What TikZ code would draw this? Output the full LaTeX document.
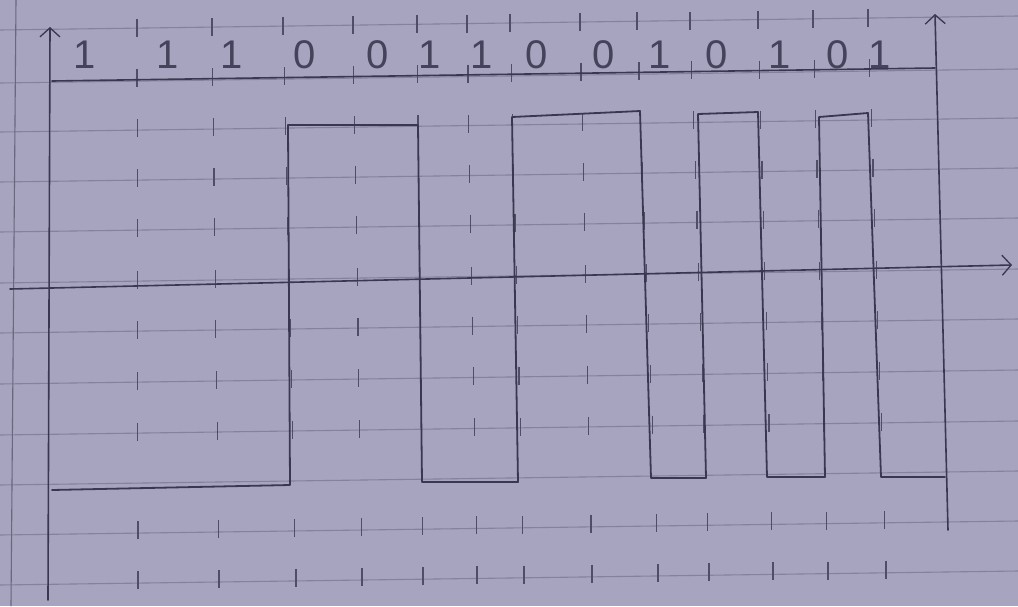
\documentclass[tikz,border=0pt]{standalone}
\usepackage{fontspec}
\setmainfont{Liberation Sans}
\usetikzlibrary{arrows.meta}
\definecolor{paper}{RGB}{166,164,190}
\definecolor{ruling}{RGB}{132,130,158}
\definecolor{pencil}{RGB}{58,56,80}
\tikzset{
  ruleline/.style={draw=ruling, line width=1.1pt},
  tickmark/.style={draw=pencil!80!paper, line width=1.2pt},
  pencilline/.style={draw=pencil, line width=1.6pt, line cap=round, line join=round},
  arrowtip/.style={-{Straight Barb[length=9pt,width=20pt,line width=1.3pt]}},
  bitlabel/.style={text=pencil!90!paper, font=\fontsize{40}{40}\selectfont, inner sep=0pt}
}
\begin{document}
\begin{tikzpicture}[x=1pt,y=-1pt]
\fill[paper] (0,0) rectangle (1018,606);
\useasboundingbox (0,0) rectangle (1018,606);
% paper ruling
\foreach \y in {30,83,132,182,232,283,333,384,435,485,535,585}
  \draw[ruleline] (0,\y) -- (1018,\y-14);
\draw[ruleline, draw=ruling!80!black] (16,0) -- (11,606);
% guide ticks
\foreach \xt/\xb in {137/138,212/219,283/296,353/362,417/423,467/477,510/524,580/592,637/658,690/709,758/773,813/828,868/886}{
  \foreach \y in {30,80,130,180,230,282,332,383,434,532,582}{
    \pgfmathsetmacro\xx{\xt+(\xb-\xt)*(\y-30)/550}
    \pgfmathsetmacro\yy{\y-14*\xx/1018}
    \draw[tickmark] (\xx,\yy-9) -- (\xx,\yy+9);
  }
}
% axes
\coordinate (lbot) at (48,600);
\coordinate (ltop) at (50,27);
\coordinate (rbot) at (948,530);
\coordinate (rtop) at (935,14);
\coordinate (hl) at (10,289);
\coordinate (hr) at (1012,265);
\coordinate (tl) at (52,81);
\coordinate (tr) at (935,68);
\draw[pencilline, arrowtip] (lbot) -- (ltop);
\draw[pencilline, arrowtip] (rbot) -- (rtop);
\draw[pencilline, arrowtip] (hl) -- (hr);
\draw[pencilline] (tl) -- (tr);
% waveform
\draw[pencilline, line width=1.8pt] (52,490) -- (290,485) -- (288,125) -- (418,125) -- (422,482) -- (518,482)
  -- (512,117) -- (640,111) -- (651,478) -- (706,478) -- (698,114) -- (758,112) -- (767,477)
  -- (825,477) -- (819,117) -- (868,113) -- (881,477) -- (945,477);
% bit labels
\foreach \x/\b [count=\i] in {85/1,168/1,232/1,305/0,378/0,430/1,482/1,537/0,604/0,660/1,717/0,780/1,838/0,880/1}
  \node[bitlabel] (b\i) at (\x,55) {\b};
\end{tikzpicture}
\end{document}
